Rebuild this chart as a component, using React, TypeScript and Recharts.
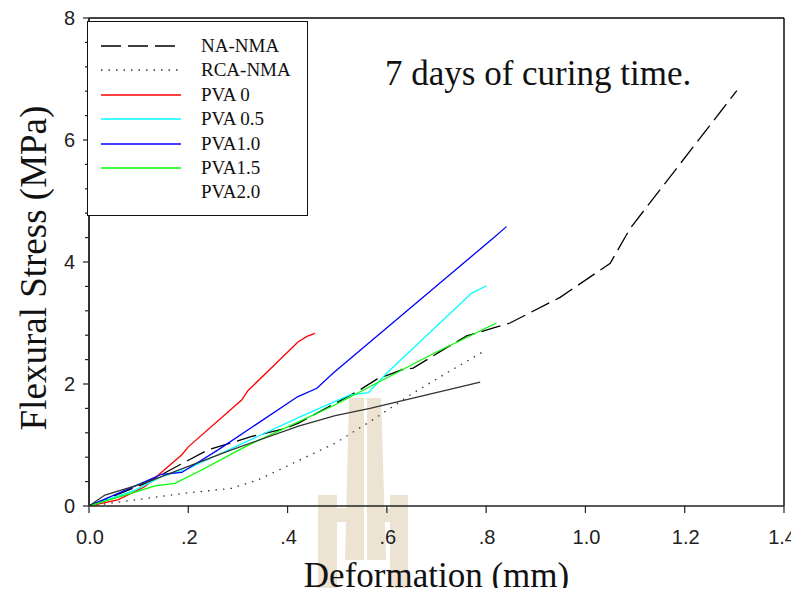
import React from 'react';
import { LineChart, Line, XAxis, YAxis, Legend, ReferenceLine } from 'recharts';

// deformation (mm), flexural stress (MPa)
const naNma = [
  [0, 0], [0.113, 0.37], [0.2, 0.75], [0.24, 0.92], [0.328, 1.14], [0.395, 1.27],
  [0.422, 1.36], [0.543, 1.89], [0.58, 2.08], [0.633, 2.24], [0.653, 2.26],
  [0.707, 2.53], [0.761, 2.79], [0.815, 2.92], [0.848, 3.0], [0.949, 3.42],
  [1.05, 3.98], [1.09, 4.55], [1.305, 6.81],
];
const rcaNma = [
  [0, 0], [0.093, 0.1], [0.193, 0.21], [0.287, 0.29], [0.341, 0.43], [0.395, 0.64],
  [0.496, 1.03], [0.573, 1.42], [0.647, 1.82], [0.714, 2.15], [0.794, 2.53],
];
const pva0 = [
  [0, 0], [0.058, 0.1], [0.113, 0.32], [0.187, 0.84], [0.2, 0.97], [0.308, 1.74],
  [0.32, 1.89], [0.421, 2.69], [0.439, 2.78], [0.455, 2.83],
];
const pva05 = [
  [0, 0], [0.093, 0.26], [0.146, 0.48], [0.193, 0.59], [0.425, 1.46], [0.526, 1.82],
  [0.563, 1.86], [0.6, 2.18], [0.771, 3.49], [0.801, 3.61],
];
const pva10 = [
  [0, 0], [0.113, 0.4], [0.146, 0.52], [0.187, 0.55], [0.26, 0.92], [0.42, 1.79],
  [0.459, 1.93], [0.492, 2.18], [0.814, 4.39], [0.841, 4.58],
];
const pva15 = [
  [0, 0], [0.086, 0.21], [0.133, 0.33], [0.173, 0.37], [0.227, 0.59], [0.314, 0.97],
  [0.496, 1.66], [0.694, 2.5], [0.821, 3.0],
];
const pva20 = [
  [0, 0], [0.032, 0.18], [0.113, 0.38], [0.287, 0.92], [0.422, 1.31], [0.496, 1.48],
  [0.566, 1.6], [0.788, 2.03],
];

const xTicks = [0, 0.2, 0.4, 0.6, 0.8, 1.0, 1.2, 1.4];
const xTickLabels = ['0.0', '.2', '.4', '.6', '.8', '1.0', '1.2', '1.4'];
const yTicks = [0, 0.4, 0.8, 1.2, 1.6, 2, 2.4, 2.8, 3.2, 3.6, 4, 4.4, 4.8, 5.2, 5.6, 6, 6.4, 6.8, 7.2, 7.6, 8];

const series = [
  { name: 'NA-NMA', data: naNma, color: '#000000', dash: '20 7' },
  { name: 'RCA-NMA', data: rcaNma, color: '#333333', dash: '1.5 6' },
  { name: 'PVA 0', data: pva0, color: '#ff0000', dash: undefined },
  { name: 'PVA 0.5', data: pva05, color: '#00ffff', dash: undefined },
  { name: 'PVA1.0', data: pva10, color: '#0000ff', dash: undefined },
  { name: 'PVA1.5', data: pva15, color: '#00ff00', dash: undefined },
  { name: 'PVA2.0', data: pva20, color: '#333333', dash: undefined },
];

const toPts = (arr: number[][]) => arr.map(([x, y]) => ({ x, y }));

const SANS = '"Liberation Sans", Arial, sans-serif';
const SERIF = '"Liberation Serif", "Times New Roman", serif';

const XTick = (props: any) => {
  const { x, y, payload, index } = props;
  const last = index === xTicks.length - 1;
  return (
    <g>
      <line x1={x} x2={x} y1={y} y2={y + 7} stroke="#222" strokeWidth={1.2} />
      <text
        x={last ? x + 12 : x + 1}
        y={y + 38}
        textAnchor={last ? 'end' : 'middle'}
        fontFamily={SANS}
        fontSize={20}
        fill="#222"
      >
        {xTickLabels[index] ?? payload.value}
      </text>
    </g>
  );
};

const YTick = (props: any) => {
  const { x, y, payload } = props;
  const major = Number.isInteger(payload.value / 2);
  return (
    <g>
      <line x1={x - (major ? 6 : 4)} x2={x} y1={y} y2={y} stroke="#222" strokeWidth={1.2} />
      {major && (
        <text x={x - 14} y={y + 7} textAnchor="end" fontFamily={SANS} fontSize={20} fill="#222">
          {payload.value}
        </text>
      )}
    </g>
  );
};

const XTitle = (props: any) => {
  const { viewBox } = props;
  return (
    <text x={viewBox.x + viewBox.width / 2} y={viewBox.y + 81} textAnchor="middle" fontFamily={SERIF} fontSize={35} fill="#111">
      Deformation (mm)
    </text>
  );
};

const YTitle = (props: any) => {
  const { viewBox } = props;
  const cx = 33;
  const cy = viewBox.y + viewBox.height / 2 + 6;
  return (
    <text x={cx} y={cy} transform={`rotate(-90 ${cx} ${cy})`} textAnchor="middle" dominantBaseline="central" fontFamily={SERIF} fontSize={37} fill="#111">
      Flexural Stress (MPa)
    </text>
  );
};

const LegendBox = () => (
  <div style={{ width: 219, height: 193, border: '1.5px solid #111', background: '#fff', position: 'relative' }}>
    {series.map((s, i) => (
      <div key={s.name} style={{ position: 'absolute', left: 0, top: 14 + i * 24.4, height: 20, display: 'flex', alignItems: 'center' }}>
        <svg width={110} height={20} style={{ display: 'block' }}>
          {s.name !== 'PVA2.0' && (
            <line x1={13} x2={s.dash === '20 7' ? 87 : 93} y1={10} y2={10} stroke={s.color} strokeWidth={1.3} strokeDasharray={s.dash} />
          )}
        </svg>
        <span style={{ fontFamily: SERIF, fontSize: 19, color: '#111', whiteSpace: 'nowrap', marginLeft: 3 }}>{s.name}</span>
      </div>
    ))}
  </div>
);

const WATERMARK = '#ece3d3';

export default function App() {
  return (
    <div style={{ position: 'relative', width: 799, height: 596, margin: -8, background: '#fff' }}>
      <svg width={799} height={596} style={{ position: 'absolute', left: 0, top: 0 }}>
        <polygon points="349,398 364,398 364,560 345,560" fill={WATERMARK} />
        <polygon points="367,398 381,398 386,560 367,560" fill={WATERMARK} />
        <rect x={318} y={495} width={19} height={101} fill={WATERMARK} />
        <rect x={390} y={495} width={18} height={101} fill={WATERMARK} />
        <rect x={337} y={508} width={12} height={14} fill={WATERMARK} />
        <rect x={381} y={508} width={9} height={14} fill={WATERMARK} />
        <text x={385} y={85} fontFamily={SERIF} fontSize={35} fill="#111">7 days of curing time.</text>
      </svg>
      <div style={{ position: 'absolute', left: 0, top: 0 }}>
        <LineChart width={799} height={596} margin={{ top: 18, right: 15, left: 0, bottom: 0 }}>
          <XAxis
            type="number"
            dataKey="x"
            domain={[0, 1.4]}
            ticks={xTicks}
            interval={0}
            height={90}
            tickSize={0}
            tickMargin={0}
            tickLine={false}
            tick={<XTick />}
            axisLine={{ stroke: '#222', strokeWidth: 1.5 }}
            label={<XTitle />}
            allowDataOverflow
          />
          <YAxis
            type="number"
            dataKey="y"
            domain={[0, 8]}
            ticks={yTicks}
            interval={0}
            width={89}
            tickSize={0}
            tickMargin={0}
            tickLine={false}
            tick={<YTick />}
            axisLine={{ stroke: '#333', strokeWidth: 2 }}
            label={<YTitle />}
            allowDataOverflow
          />
          <ReferenceLine y={8} stroke="#444" strokeWidth={2} ifOverflow="visible" />
          <ReferenceLine x={1.4} stroke="#111" strokeWidth={1.5} ifOverflow="visible" />
          {series.map((s) => (
            <Line
              key={s.name}
              name={s.name}
              data={toPts(s.data)}
              dataKey="y"
              type="linear"
              stroke={s.color}
              strokeWidth={1.3}
              strokeDasharray={s.dash}
              dot={false}
              activeDot={false}
              isAnimationActive={false}
            />
          ))}
          <Legend
            layout="vertical"
            align="center"
            verticalAlign="middle"
            content={<LegendBox />}
            wrapperStyle={{ position: 'absolute', left: 87, top: 21, width: 222, height: 196 }}
          />
        </LineChart>
      </div>
    </div>
  );
}
